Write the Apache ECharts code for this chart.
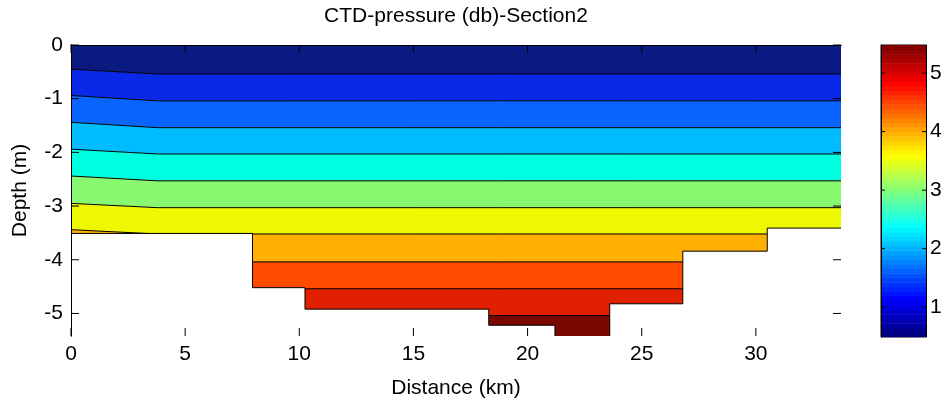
<!DOCTYPE html>
<html>
<head>
<meta charset="utf-8">
<script src="https://cdn.jsdelivr.net/npm/echarts@6/dist/echarts.min.js"></script>
<style>
  html, body { margin: 0; padding: 0; background: #fff; }
  #chart { width: 946px; height: 405px; }
</style>
</head>
<body>
<div id="chart"></div>
<script>
// CTD casts along Section 2: depth (m) at which each isobar is crossed
const stationKm = [0, 3.8, 33.73];
const isobarLevels = [1.0, 1.5, 2.0, 2.5, 3.0, 3.5, 4.0, 4.5, 5.0, 5.5]; // db
const isobarDepthAt0Km    = [-0.45, -0.94, -1.44, -1.94, -2.44, -2.95, -3.44, -4.04, -4.54, -5.04];
const isobarDepthAt3_8Km  = [-0.54, -1.04, -1.54, -2.03, -2.53, -3.03, -3.52, -4.04, -4.54, -5.04];
const isobarDepthAt33_7Km = [-0.54, -1.04, -1.54, -2.03, -2.53, -3.03, -3.52, -4.04, -4.54, -5.04];

// Sea floor: step profile, one depth per segment between consecutive edges
const floorEdgeKm = [0, 7.95, 10.25, 18.3, 21.2, 23.6, 26.8, 30.5, 33.73];
const floorDepth  = [-3.51, -4.52, -4.92, -5.22, -5.7, -4.82, -3.84, -3.41];

// Axes
const distanceRange = [0, 33.73];
const depthRange = [-5.42, 0];
const pressureRange = [0.49, 5.48];
const distanceTicks = [0, 5, 10, 15, 20, 25, 30];
const depthTicks = [0, -1, -2, -3, -4, -5];
const pressureTicks = [1, 2, 3, 4, 5];

// ---- styling ----
const FONT = "'Liberation Sans', Arial, Helvetica, sans-serif";
const FONT_SIZE = 21;
const TICK_LEN = 8;
const CBAR_TICK_LEN = 4;
// filled-contour colours, shallowest band first
const BAND_COLORS = ['#0a1a80', '#0a28e8', '#0a64ff', '#00bcff', '#00ffe0',
  '#88f870', '#eef800', '#ffb000', '#ff4a00', '#e02000', '#7a0800'];

function jet(t) {
  const c = (v) => Math.round(255 * Math.max(0, Math.min(1, v)));
  const r = c(1.5 - Math.abs(4 * t - 3));
  const g = c(1.5 - Math.abs(4 * t - 2));
  const b = c(1.5 - Math.abs(4 * t - 1));
  return 'rgb(' + r + ',' + g + ',' + b + ')';
}

const stationProfiles = [isobarDepthAt0Km, isobarDepthAt3_8Km, isobarDepthAt33_7Km];
// depth of isobar i at every station
function isobarLine(i) {
  return stationKm.map((x, s) => [x, stationProfiles[s][i]]);
}
// boundary above / below band k
function bandTop(k) {
  return k === 0 ? stationKm.map((x) => [x, depthRange[1]]) : isobarLine(k - 1);
}
function bandBottom(k) {
  return k === isobarLevels.length ? stationKm.map((x) => [x, depthRange[0]]) : isobarLine(k);
}

const bandIndex = BAND_COLORS.map((_, k) => [k]);
const isobarIndex = isobarLevels.map((_, i) => [i]);

// sea floor outline as a polyline of steps
const floorPoints = [];
floorDepth.forEach((d, i) => {
  floorPoints.push([floorEdgeKm[i], d]);
  floorPoints.push([floorEdgeKm[i + 1], d]);
});

// colour bar steps (64-colour jet)
const CMAP_N = 64;
const colorbarSteps = [];
for (let i = 0; i < CMAP_N; i++) {
  const lo = pressureRange[0] + (pressureRange[1] - pressureRange[0]) * i / CMAP_N;
  const hi = pressureRange[0] + (pressureRange[1] - pressureRange[0]) * (i + 1) / CMAP_N;
  colorbarSteps.push([lo, hi, i / (CMAP_N - 1)]);
}

const axisLineStyle = { lineStyle: { color: '#000', width: 1 } };
const labelStyle = { color: '#000', fontSize: FONT_SIZE, fontFamily: FONT };

function tickLine(a, b) {
  return { type: 'line', shape: { x1: a[0], y1: a[1], x2: b[0], y2: b[1] },
    style: { stroke: '#000', lineWidth: 1 } };
}

const chart = echarts.init(document.getElementById('chart'), null, { renderer: 'canvas' });
chart.setOption({
  animation: false,
  backgroundColor: '#fff',
  textStyle: { fontFamily: FONT },
  title: {
    text: 'CTD-pressure (db)-Section2',
    left: 456, top: 6, padding: 0, textAlign: 'center',
    textStyle: { fontSize: FONT_SIZE, fontWeight: 'normal', color: '#000', fontFamily: FONT }
  },
  grid: [
    { left: 71, right: 105, top: 45, bottom: 69, containLabel: false },
    { left: 881, width: 45, top: 45, bottom: 68, containLabel: false,
      show: true, borderColor: '#000', borderWidth: 1, backgroundColor: 'transparent' }
  ],
  xAxis: [
    {
      gridIndex: 0, type: 'value', position: 'bottom', z: 10,
      min: distanceRange[0], max: distanceRange[1],
      name: 'Distance (km)', nameLocation: 'middle', nameGap: 42,
      nameTextStyle: labelStyle,
      axisLine: axisLineStyle,
      axisTick: { show: false },
      axisLabel: Object.assign({ customValues: distanceTicks, margin: 8 }, labelStyle),
      splitLine: { show: false }
    },
    {
      gridIndex: 0, type: 'value', position: 'top', z: 10,
      min: distanceRange[0], max: distanceRange[1],
      axisLine: axisLineStyle,
      axisTick: { show: false },
      axisLabel: { show: false },
      splitLine: { show: false }
    },
    {
      gridIndex: 1, type: 'value', min: 0, max: 1, show: false
    }
  ],
  yAxis: [
    {
      gridIndex: 0, type: 'value', position: 'left', z: 10,
      min: depthRange[0], max: depthRange[1],
      name: 'Depth (m)', nameLocation: 'middle', nameGap: 40, nameRotate: 90,
      nameTextStyle: labelStyle,
      axisLine: axisLineStyle,
      axisTick: { show: false },
      axisLabel: Object.assign({ customValues: depthTicks, margin: 8 }, labelStyle),
      splitLine: { show: false }
    },
    {
      gridIndex: 0, type: 'value', position: 'right', z: 10,
      min: depthRange[0], max: depthRange[1],
      axisLine: axisLineStyle,
      axisTick: { show: false },
      axisLabel: { show: false },
      splitLine: { show: false }
    },
    {
      gridIndex: 1, type: 'value', position: 'left', z: 10,
      min: pressureRange[0], max: pressureRange[1],
      axisLine: axisLineStyle,
      axisTick: { show: false },
      axisLabel: { show: false },
      splitLine: { show: false }
    },
    {
      gridIndex: 1, type: 'value', position: 'right', z: 10,
      min: pressureRange[0], max: pressureRange[1],
      axisLine: axisLineStyle,
      axisTick: { show: false },
      axisLabel: Object.assign({ customValues: pressureTicks, margin: 4 }, labelStyle),
      splitLine: { show: false }
    }
  ],
  series: [
    {
      // filled pressure bands
      type: 'custom', name: 'bands', xAxisIndex: 0, yAxisIndex: 0, clip: true,
      data: bandIndex,
      renderItem: function (params, api) {
        const k = params.dataIndex;
        const top = bandTop(k).map((p) => api.coord(p));
        const bottom = bandBottom(k).map((p) => api.coord(p)).reverse();
        return {
          type: 'polygon',
          shape: { points: top.concat(bottom) },
          style: { fill: BAND_COLORS[k], stroke: BAND_COLORS[k], lineWidth: 0.5 }
        };
      }
    },
    {
      // isobars
      type: 'custom', name: 'isobars', xAxisIndex: 0, yAxisIndex: 0, clip: true,
      data: isobarIndex,
      renderItem: function (params, api) {
        const pts = isobarLine(params.dataIndex).map((p) => api.coord(p));
        return {
          type: 'polyline',
          shape: { points: pts },
          style: { fill: null, stroke: '#000', lineWidth: 1 }
        };
      }
    },
    {
      // no-data region below the sea floor
      type: 'custom', name: 'seafloor', xAxisIndex: 0, yAxisIndex: 0, clip: true,
      data: [[0]],
      renderItem: function (params, api) {
        const line = floorPoints.map((p) => api.coord(p));
        const below = depthRange[0] - 1;
        const poly = line.concat([
          api.coord([floorEdgeKm[floorEdgeKm.length - 1], below]),
          api.coord([floorEdgeKm[0], below])
        ]);
        return {
          type: 'group',
          children: [
            { type: 'polygon', shape: { points: poly }, style: { fill: '#fff', stroke: null } },
            { type: 'polyline', shape: { points: line }, style: { fill: null, stroke: '#000', lineWidth: 1 } }
          ]
        };
      }
    },
    {
      // inward tick marks on all four sides of the section
      type: 'custom', name: 'ticks', xAxisIndex: 0, yAxisIndex: 0, clip: false, z: 20,
      data: [[0]],
      renderItem: function (params, api) {
        const children = [];
        distanceTicks.forEach((x) => {
          const b = api.coord([x, depthRange[0]]);
          const t = api.coord([x, depthRange[1]]);
          children.push(tickLine(b, [b[0], b[1] - TICK_LEN]));
          children.push(tickLine(t, [t[0], t[1] + TICK_LEN]));
        });
        depthTicks.forEach((y) => {
          const l = api.coord([distanceRange[0], y]);
          const r = api.coord([distanceRange[1], y]);
          children.push(tickLine(l, [l[0] + TICK_LEN, l[1]]));
          children.push(tickLine(r, [r[0] - TICK_LEN, r[1]]));
        });
        return { type: 'group', children: children };
      }
    },
    {
      // colour bar
      type: 'custom', name: 'colorbar', xAxisIndex: 2, yAxisIndex: 2, clip: true,
      data: colorbarSteps,
      renderItem: function (params, api) {
        const step = colorbarSteps[params.dataIndex];
        const p0 = api.coord([0, step[1]]);
        const p1 = api.coord([1, step[0]]);
        return {
          type: 'rect',
          shape: { x: p0[0], y: p0[1], width: p1[0] - p0[0], height: p1[1] - p0[1] + 0.5 },
          style: { fill: jet(step[2]) }
        };
      }
    },
    {
      // colour bar tick marks
      type: 'custom', name: 'colorbarTicks', xAxisIndex: 2, yAxisIndex: 2, clip: false, z: 20,
      data: [[0]],
      renderItem: function (params, api) {
        const children = [];
        pressureTicks.forEach((v) => {
          const l = api.coord([0, v]);
          const r = api.coord([1, v]);
          children.push(tickLine(l, [l[0] + CBAR_TICK_LEN, l[1]]));
          children.push(tickLine(r, [r[0] - CBAR_TICK_LEN, r[1]]));
        });
        return { type: 'group', children: children };
      }
    }
  ]
});
</script>
</body>
</html>
